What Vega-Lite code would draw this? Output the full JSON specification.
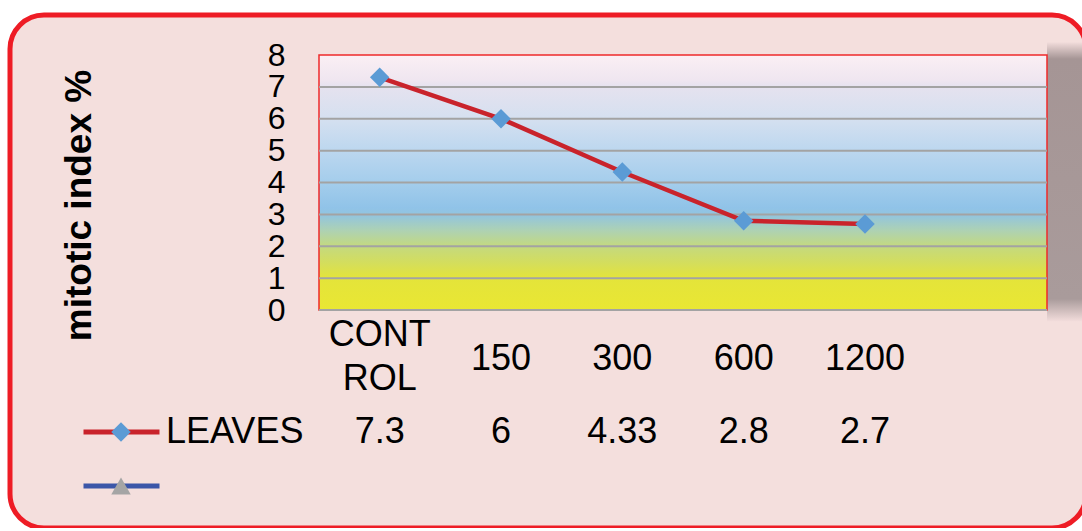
{
  "$schema": "https://vega.github.io/schema/vega-lite/v6.json",
  "width": 1076,
  "height": 513,
  "autosize": {"type": "none"},
  "padding": {"left": 10, "top": 15, "right": 0, "bottom": 0},
  "background": "white",
  "config": {
    "view": {"fill": "#f4dfdd", "stroke": "#ee1c25", "strokeWidth": 5, "cornerRadius": 34},
    "font": "Liberation Sans"
  },
  "data": {"values": [
    {"category": "CONTROL", "value": 7.3, "series": "LEAVES"},
    {"category": "150", "value": 6, "series": "LEAVES"},
    {"category": "300", "value": 4.33, "series": "LEAVES"},
    {"category": "600", "value": 2.8, "series": "LEAVES"},
    {"category": "1200", "value": 2.7, "series": "LEAVES"}
  ]},
  "layer": [
    {
      "layer": [
        {
          "data": {"values": [{}]},
          "mark": {"type": "rect", "x2Offset": 40, "fill": {"gradient": "linear", "x1": 0, "y1": 0, "x2": 0, "y2": 1, "stops": [
            {"offset": 0, "color": "#f2dcdb"},
            {"offset": 0.06, "color": "#a59595"},
            {"offset": 0.92, "color": "#a99b9b"},
            {"offset": 1, "color": "#f2dcdb"}
          ]}},
          "encoding": {
            "x": {"datum": " ", "bandPosition": 1},
            "x2": {"datum": " ", "bandPosition": 1},
            "y": {"datum": 8.4},
            "y2": {"datum": -0.35}
          }
        },
        {
          "data": {"values": [{}]},
          "mark": {"type": "rect", "stroke": "#ee2a2a", "strokeWidth": 1.5, "fill": {"gradient": "linear", "x1": 0, "y1": 0, "x2": 0, "y2": 1, "stops": [
            {"offset": 0, "color": "#fbeff4"},
            {"offset": 0.1, "color": "#efe6f0"},
            {"offset": 0.125, "color": "#e5e2ef"},
            {"offset": 0.25, "color": "#d5e0f0"},
            {"offset": 0.375, "color": "#bcd7ef"},
            {"offset": 0.5, "color": "#a4cdec"},
            {"offset": 0.6, "color": "#90c3e8"},
            {"offset": 0.63, "color": "#93c5dd"},
            {"offset": 0.69, "color": "#aed2b2"},
            {"offset": 0.75, "color": "#c4d97f"},
            {"offset": 0.82, "color": "#d5de5a"},
            {"offset": 0.875, "color": "#e4e43a"},
            {"offset": 1, "color": "#e9e733"}
          ]}},
          "encoding": {
            "x": {"datum": "CONTROL", "bandPosition": 0},
            "x2": {"datum": " ", "bandPosition": 1},
            "y": {"datum": 8},
            "y2": {"datum": 0}
          }
        },
        {
          "data": {"values": [{"tick": 0}, {"tick": 1}, {"tick": 2}, {"tick": 3}, {"tick": 4}, {"tick": 5}, {"tick": 6}, {"tick": 7}]},
          "mark": {"type": "rule", "color": "#a3a3a3", "strokeWidth": 2},
          "encoding": {
            "x": {"datum": "CONTROL", "bandPosition": 0},
            "x2": {"datum": " ", "bandPosition": 1},
            "y": {"field": "tick", "type": "quantitative"}
          }
        },
        {
          "mark": {"type": "line", "strokeWidth": 4.5},
          "encoding": {
            "x": {"field": "category", "type": "nominal", "sort": null,
              "scale": {"type": "band", "domain": ["CONTROL", "150", "300", "600", "1200", " "], "range": [309, 1037], "paddingInner": 0, "paddingOuter": 0},
              "axis": {"title": null, "orient": "bottom", "offset": -218, "domain": false, "ticks": false, "tickSize": 0, "grid": false,
                "labelFontSize": 36, "labelFont": "Liberation Sans", "labelColor": "black",
                "labelPadding": {"condition": {"test": "datum.value == 'CONTROL'", "value": 24}, "value": 48},
                "labelBaseline": "middle", "labelAlign": "center",
                "labelLineHeight": 44, "labelAngle": 0, "labelOverlap": false,
                "labelExpr": "datum.value == 'CONTROL' ? ['CONT', 'ROL'] : datum.label"}},
            "y": {"field": "value", "type": "quantitative",
              "scale": {"domain": [0, 8], "range": [295, 40], "nice": false, "zero": false},
              "axis": {"orient": "left", "offset": -309, "values": [0, 1, 2, 3, 4, 5, 6, 7, 8], "format": "d", "domain": false, "ticks": false, "tickSize": 0, "grid": false,
                "labelFontSize": 32, "labelFont": "Liberation Sans", "labelColor": "black", "labelPadding": 34, "labelBaseline": "middle",
                "labelOverlap": false, "labelFlush": false,
                "title": "mitotic index %", "titleFontSize": 37, "titleFont": "Liberation Sans", "titleFontWeight": "bold", "titleColor": "black",
                "titleX": -240, "titleY": 190, "titleAngle": 270, "titleBaseline": "middle", "titleAlign": "center"}},
            "color": {"field": "series", "type": "nominal",
              "scale": {"domain": ["LEAVES", "S2 "], "range": ["#c9232b", "#3b56a8"]},
              "legend": {"orient": "none", "legendX": 71, "legendY": 397, "title": null, "symbolType": "stroke", "symbolSize": 5776,
                "symbolStrokeWidth": 5, "labelFontSize": 36, "labelFont": "Liberation Sans", "labelColor": "black", "labelOffset": 4,
                "labelExpr": "datum.label == 'LEAVES' ? 'LEAVES' : ''", "clipHeight": 40, "rowPadding": 14, "padding": 0, "zindex": 1}}
          }
        },
        {
          "mark": {"type": "point", "filled": true, "size": 380, "opacity": 1, "strokeWidth": 0},
          "encoding": {
            "x": {"field": "category", "type": "nominal", "sort": null},
            "y": {"field": "value", "type": "quantitative"},
            "fill": {"field": "series", "type": "nominal",
              "scale": {"domain": ["LEAVES", "S2"], "range": ["#5b9bd5", "#a5a5a5"]},
              "legend": {"orient": "none", "legendX": 93, "legendY": 397, "title": null, "symbolSize": 380, "symbolStrokeWidth": 0, "symbolOpacity": 1,
                "labelExpr": "''", "labelFontSize": 36, "clipHeight": 40, "rowPadding": 14, "padding": 0, "zindex": 2}},
            "shape": {"field": "series", "type": "nominal",
              "scale": {"domain": ["LEAVES", "S2"], "range": ["diamond", "triangle-up"]},
              "legend": {"orient": "none", "legendX": 93, "legendY": 397, "title": null, "symbolSize": 380, "symbolStrokeWidth": 0, "symbolOpacity": 1,
                "labelExpr": "''", "labelFontSize": 36, "clipHeight": 40, "rowPadding": 14, "padding": 0, "zindex": 2}}
          }
        }
      ]
    },
    {
      "mark": {"type": "text", "fontSize": 36, "font": "Liberation Sans", "color": "black", "baseline": "middle"},
      "encoding": {
        "x": {"field": "category", "type": "nominal", "sort": null},
        "y": {"field": "series", "type": "nominal", "scale": {"type": "point", "domain": ["LEAVES", "S2"], "range": [417, 471], "padding": 0}, "axis": null},
        "text": {"field": "value", "type": "quantitative", "format": ""}
      }
    }
  ],
  "resolve": {"scale": {"y": "independent"}}
}
